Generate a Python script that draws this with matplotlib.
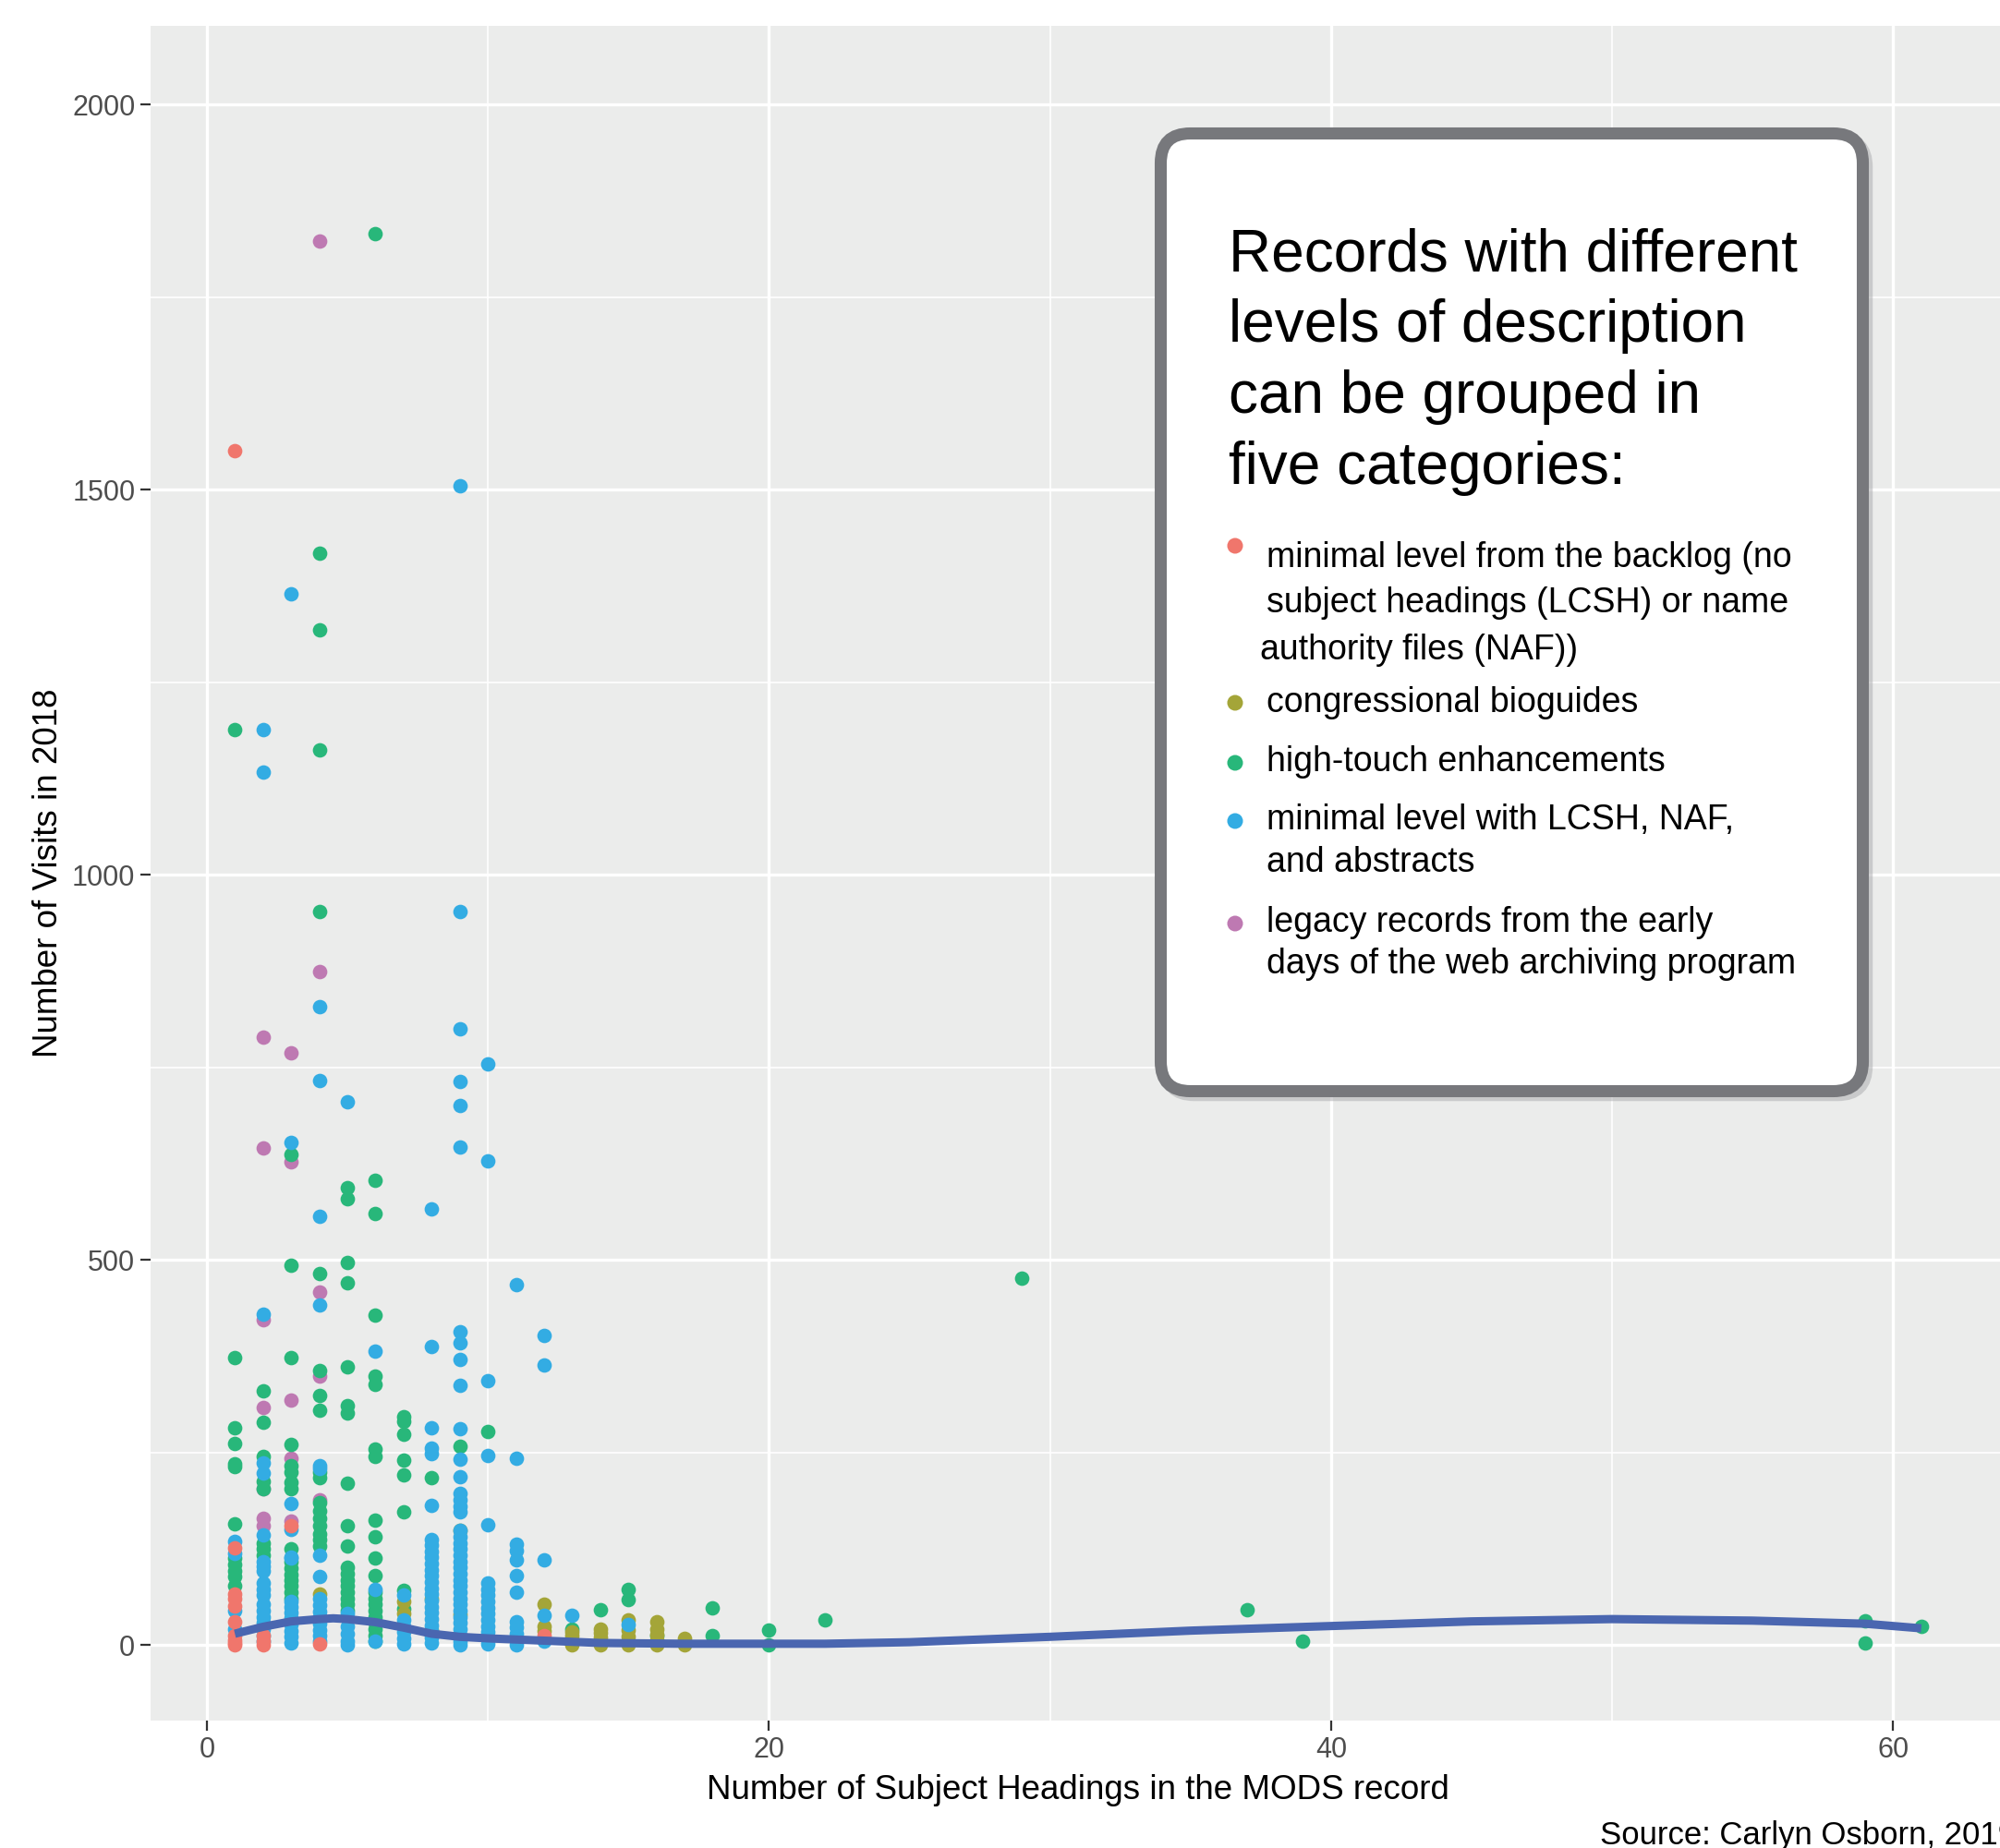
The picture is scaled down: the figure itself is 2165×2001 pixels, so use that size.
import matplotlib
matplotlib.use("Agg")
import matplotlib.pyplot as plt
from matplotlib.patches import FancyBboxPatch

plt.rcParams['font.family'] = ['Liberation Sans', 'DejaVu Sans']

# ---- data (x = subject headings, y = visits) ----
red_x = [1, 1, 1, 1, 1, 1, 1, 1, 1, 1, 2, 2, 2, 3, 4, 12]
red_y = [1551, 126, 67, 60, 51, 31, 13, 7, 3, 0, 12, 5, 1, 155, 2, 13]

olive_x = [4, 7, 7, 8, 8, 9, 9, 12, 12, 12, 12,
           13, 13, 13, 13, 13, 14, 14, 14, 14, 14,
           15, 15, 15, 15, 15, 16, 16, 16, 16, 16, 16, 17, 17, 17]
olive_y = [67, 57, 41, 60, 20, 149, 40, 53, 25, 18, 8,
           17, 12, 7, 3, 0, 21, 16, 10, 5, 0,
           33, 20, 11, 5, 0, 30, 21, 14, 7, 2, 0, 9, 3, 0]

green_x = [1, 1, 1, 1, 1, 1, 1, 1, 1, 1, 1, 1,
           2, 2, 2, 2, 2, 2, 2, 2,
           3, 3, 3, 3, 3, 3, 3, 3, 3, 3, 3, 3, 3, 3, 3, 3,
           4, 4, 4, 4, 4, 4, 4, 4, 4, 4, 4, 4, 4, 4, 4, 4, 4,
           5, 5, 5, 5, 5, 5, 5, 5, 5, 5, 5, 5, 5, 5, 5, 5, 5, 5,
           6, 6, 6, 6, 6, 6, 6, 6, 6, 6, 6, 6, 6, 6, 6, 6, 6, 6, 6, 6, 6,
           7, 7, 7, 7, 7, 7, 7, 7, 8, 9, 10,
           13, 14, 15, 15, 16, 18, 18, 20, 20, 22, 29, 37, 39, 59, 59, 61]
green_y = [1189, 374, 282, 262, 236, 232, 158, 113, 105, 97, 89, 77,
           330, 290, 245, 213, 203, 133, 125, 117,
           637, 493, 374, 261, 233, 225, 211, 203, 125, 109, 100, 92, 85, 77, 69, 61,
           1417, 1318, 1162, 953, 482, 357, 324, 305, 225, 217, 185, 175, 165, 155, 145, 137, 129,
           594, 580, 497, 471, 361, 311, 301, 210, 155, 129, 101, 93, 85, 77, 69, 61, 53, 45,
           1832, 604, 560, 428, 350, 339, 255, 245, 163, 141, 113, 91, 69, 61, 53, 45, 37, 29, 21, 13, 5,
           297, 291, 274, 240, 221, 173, 71, 47, 217, 258, 278,
           21, 46, 72, 59, 12, 48, 12, 20, 1, 33, 477, 46, 5, 32, 3, 25]

blue_x = [1, 1, 1, 1,
          2, 2, 2, 2, 2, 2, 2, 2, 2, 2, 2, 2, 2, 2, 2, 2, 2, 2, 2,
          3, 3, 3, 3, 3, 3, 3, 3, 3, 3, 3, 3, 3, 3,
          4, 4, 4, 4, 4, 4, 4, 4, 4, 4, 4, 4, 4, 4, 4, 4,
          5, 5, 5, 5, 5, 5, 6, 6, 6,
          7, 7, 7, 7, 7, 7,
          8, 8, 8, 8, 8, 8, 8, 8, 8, 8, 8, 8, 8, 8, 8, 8, 8, 8, 8, 8, 8, 8, 8, 8,
          9, 9, 9, 9, 9, 9, 9, 9, 9, 9, 9, 9, 9, 9, 9, 9, 9, 9, 9, 9, 9, 9, 9, 9,
          9, 9, 9, 9, 9, 9, 9, 9, 9, 9, 9, 9, 9,
          10, 10, 10, 10, 10, 10, 10, 10, 10, 10, 10, 10, 10, 10, 10, 10,
          11, 11, 11, 11, 11, 11, 11, 11, 11, 11, 11, 11,
          12, 12, 12, 12, 12, 13, 15]
blue_y = [135, 119, 45, 21,
          1188, 1133, 430, 237, 224, 143, 109, 103, 97, 81, 73, 65, 53, 45, 37, 29, 21, 13, 5,
          1365, 653, 184, 150, 115, 113, 57, 50, 43, 35, 27, 19, 11, 3,
          829, 733, 557, 442, 233, 229, 117, 89, 60, 52, 44, 36, 28, 20, 12, 5,
          706, 41, 25, 15, 5, 0, 382, 73, 5,
          65, 33, 25, 17, 9, 2,
          567, 388, 282, 256, 249, 182, 137, 130, 122, 114, 106, 98, 90, 82, 74, 66,
          58, 50, 42, 34, 26, 18, 10, 3,
          1505, 953, 800, 732, 701, 647, 407, 392, 371, 337, 281, 242, 219, 197, 189, 181,
          173, 149, 141, 133, 125, 117, 109, 101, 93, 85, 77, 69, 61, 53, 45, 37, 29,
          21, 13, 5, 0,
          755, 629, 344, 246, 157, 81, 73, 65, 57, 49, 41, 33, 25, 17, 9, 2,
          468, 243, 131, 123, 111, 91, 69, 31, 23, 15, 7, 0,
          402, 364, 111, 39, 5, 39, 27]

purple_x = [2, 2, 2, 2, 2, 2, 2, 3, 3, 3, 3, 3, 4, 4, 4, 4, 4]
purple_y = [789, 645, 422, 309, 203, 165, 155, 769, 628, 318, 243, 161, 1823, 875, 458, 349, 189]

smooth_x = [1, 2, 3, 4, 4.5, 5, 6, 7, 8, 9, 10, 12, 14, 17, 20, 22, 25, 30, 35, 40, 45, 50, 55, 59, 61]
smooth_y = [15, 24, 31, 34, 35, 34, 30, 23, 15, 11, 9, 6, 3, 2, 2, 2, 4, 11, 19, 25, 31, 34, 32, 28, 22]

colors = ['#F0766C', '#A4A538', '#28B77A', '#33ACE3', '#BE79B2']

x_ticks = [0, 20, 40, 60]
y_ticks = [0, 500, 1000, 1500, 2000]

W, H = 2165, 2001
fig = plt.figure(figsize=(W / 100, H / 100), dpi=100)

# main panel, right edge runs a little past the image edge
ax = fig.add_axes([163 / W, 138 / H, (2171 - 163) / W, (1863 - 28) / H])
ax.set_facecolor('#EBECEB')
for s in ax.spines.values():
    s.set_visible(False)
ax.set_xlim(-2, 64)
ax.set_ylim(-97.7, 2102)
ax.set_xticks(x_ticks)
ax.set_yticks(y_ticks)
ax.set_xticks([10, 30, 50], minor=True)
ax.set_yticks([250, 750, 1250, 1750], minor=True)
ax.grid(True, which='major', color='white', lw=2.4)
ax.grid(True, which='minor', color='white', lw=1.2)
ax.set_axisbelow(True)
ax.tick_params(which='major', length=8, width=1.6, color='#333333',
               labelsize=22, labelcolor='#4D4D4D', pad=4)
ax.tick_params(which='minor', length=0)

ms = 128
layers = [(purple_x, purple_y, colors[4]), (green_x, green_y, colors[2]),
          (olive_x, olive_y, colors[1]), (blue_x, blue_y, colors[3]),
          (red_x, red_y, colors[0])]
for xs, ys, c in layers:
    ax.scatter(xs, ys, s=ms, color=c, linewidths=0, zorder=3)
ax.plot(smooth_x, smooth_y, color='#4A66B0', lw=6.5, zorder=4, solid_capstyle='butt')

ax.set_xlabel("Number of Subject Headings in the MODS record", fontsize=26.5, labelpad=8)
ax.set_ylabel("Number of Visits in 2018", fontsize=26.5, labelpad=6)

# overlay in pixel coordinates for the annotation box and caption
ov = fig.add_axes([0, 0, 1, 1])
ov.set_xlim(0, W)
ov.set_ylim(H, 0)
ov.axis('off')

shadow = FancyBboxPatch((1261, 149), 760, 1037, boxstyle="round,pad=0,rounding_size=32",
                        fc='#A8A9AC', ec='#A8A9AC', lw=9, alpha=0.5)
ov.add_patch(shadow)
box = FancyBboxPatch((1256.5, 144.5), 760, 1037, boxstyle="round,pad=0,rounding_size=32",
                     fc='white', ec='#77787C', lw=9.4)
ov.add_patch(box)

title_lines = ["Records with different", "levels of description",
               "can be grouped in", "five categories:"]
for i, line in enumerate(title_lines):
    ov.text(1330, 293 + 77 * i, line, fontsize=46, va='baseline', ha='left')

item_lines = [
    (1371, 614, "minimal level from the backlog (no"),
    (1371, 663, "subject headings (LCSH) or name"),
    (1364, 714, "authority files (NAF))"),
    (1371, 771, "congressional bioguides"),
    (1371, 835, "high-touch enhancements"),
    (1371, 898, "minimal level with LCSH, NAF,"),
    (1371, 944, "and abstracts"),
    (1371, 1009, "legacy records from the early"),
    (1371, 1054, "days of the web archiving program"),
]
for x, y, t in item_lines:
    ov.text(x, y, t, fontsize=27, va='baseline', ha='left')

dot_y = [591, 761, 826, 889, 1000]
ov.scatter([1337] * 5, dot_y, s=150, color=colors, linewidths=0)

# caption runs off the right edge, as in the original image
ov.text(1732, 1997, "Source: Carlyn Osborn, 2019", fontsize=25, va='baseline', ha='left')

fig.savefig("out.png", dpi=100)
